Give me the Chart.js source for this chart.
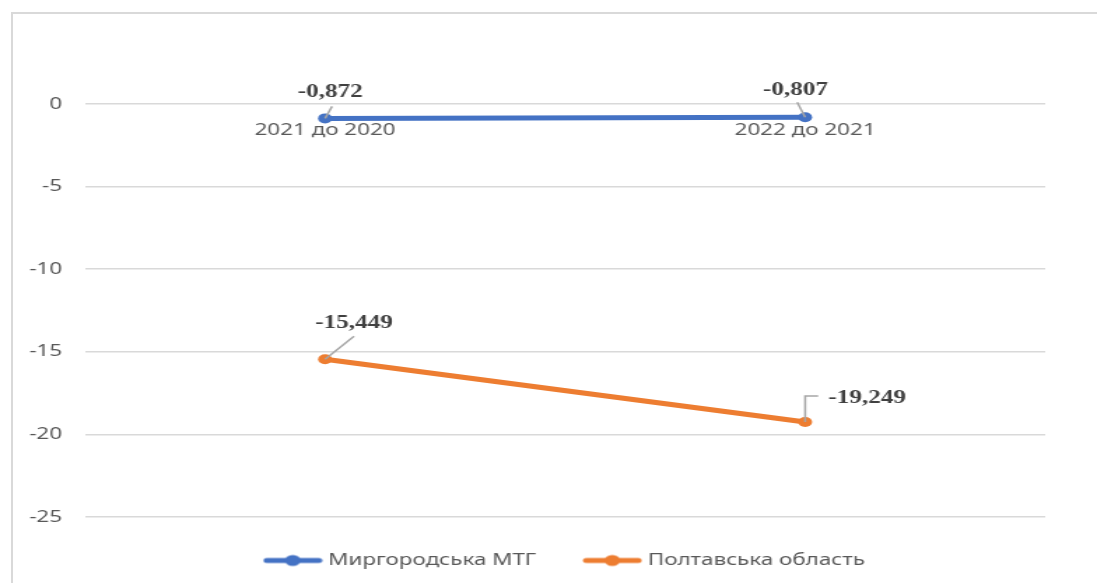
<!DOCTYPE html>
<html>
<head>
<meta charset="utf-8">
<script src="https://cdn.jsdelivr.net/npm/chart.js@4.4.0/dist/chart.umd.min.js"></script>
<style>
  html, body { margin: 0; padding: 0; background: #fff; overflow: hidden; }
  #frame {
    position: absolute; left: 11px; top: 12px; width: 1100px; height: 590px;
    border-left: 2px solid #d9d9d9; border-top: 2px solid #d9d9d9;
  }
  /* the reference is stretched horizontally, so the canvas is too */
  #chart { position: absolute; left: 0; top: 0; transform-origin: 0 0; transform: scaleX(1.3992); }
</style>
</head>
<body>
<div id="frame"></div>
<canvas id="chart" width="784" height="583"></canvas>
<script>
// --- data ---
const categories = ['2021 до 2020', '2022 до 2021'];
const seriesNames = ['Миргородська МТГ', 'Полтавська область'];
const myrhorodValues = [-0.872, -0.807];
const poltavaValues = [-15.449, -19.249];
const yTicks = [0, -5, -10, -15, -20, -25];

const BLUE = '#4472C4';
const ORANGE = '#ED7D31';
const GREY_TEXT = '#595959';
const FONT = '"Noto Sans", "Open Sans", sans-serif';

function formatValue(v) {
  return v.toFixed(3).replace('.', ',');
}

// line + dot icon for the legend
function legendIcon(color) {
  const c = document.createElement('canvas');
  c.width = 43;
  c.height = 14;
  const g = c.getContext('2d');
  g.strokeStyle = color;
  g.lineWidth = 5;
  g.lineCap = 'round';
  g.beginPath();
  g.moveTo(3, 7);
  g.lineTo(40, 7);
  g.stroke();
  g.fillStyle = color;
  g.beginPath();
  g.arc(21.5, 7, 5.5, 0, Math.PI * 2);
  g.fill();
  return c;
}
const legendIcons = [legendIcon(BLUE), legendIcon(ORANGE)];

// value labels with short leader lines, like Excel does
const valueLabels = {
  id: 'valueLabels',
  afterDatasetsDraw(chart, args, opts) {
    const ctx = chart.ctx;
    ctx.save();
    chart.data.datasets.forEach((ds, di) => {
      const meta = chart.getDatasetMeta(di);
      meta.data.forEach((pt, i) => {
        const o = opts.offsets[di][i];
        ctx.strokeStyle = '#a6a6a6';
        ctx.lineWidth = 1.5;
        ctx.beginPath();
        ctx.moveTo(pt.x, pt.y);
        if (o.elbow) ctx.lineTo(pt.x, pt.y + o.ly);
        ctx.lineTo(pt.x + o.lx, pt.y + o.ly);
        ctx.stroke();

        ctx.fillStyle = '#404040';
        ctx.font = 'bold 18px "Liberation Serif", "Times New Roman", serif';
        ctx.textAlign = 'center';
        ctx.textBaseline = 'middle';
        ctx.fillText(formatValue(ds.data[i]), pt.x + o.dx, pt.y + o.dy);
      });
    });
    ctx.restore();
  }
};

// fixes the legend box height and moves it where the reference has it
const legendPlacement = {
  id: 'legendPlacement',
  beforeLayout(chart, args, opts) {
    const lg = chart.legend;
    if (lg && !lg._fixedFit) {
      const fit = lg.fit;
      lg.fit = function () {
        fit.call(this);
        this.height = opts.height;
      };
      lg._fixedFit = true;
    }
  },
  afterLayout(chart, args, opts) {
    const lg = chart.legend;
    if (!lg) return;
    const dx = opts.centerX - (lg.left + lg.right) / 2;
    lg.left += dx;
    lg.right += dx;
    lg.top = opts.top;
    lg.bottom = chart.height;
    lg.height = lg.bottom - lg.top;
  }
};

const ctx = document.getElementById('chart');

new Chart(ctx, {
  type: 'line',
  data: {
    labels: categories,
    datasets: [
      {
        label: seriesNames[0],
        data: myrhorodValues,
        borderColor: BLUE,
        backgroundColor: BLUE,
        borderWidth: 5,
        borderCapStyle: 'round',
        pointRadius: 5,
        pointBorderWidth: 0,
        pointBackgroundColor: BLUE
      },
      {
        label: seriesNames[1],
        data: poltavaValues,
        borderColor: ORANGE,
        backgroundColor: ORANGE,
        borderWidth: 5,
        borderCapStyle: 'round',
        pointRadius: 5,
        pointBorderWidth: 0,
        pointBackgroundColor: ORANGE
      }
    ]
  },
  options: {
    responsive: false,
    animation: false,
    events: [],
    layout: { padding: { top: 21.4, right: 37, bottom: 0, left: 0 } },
    plugins: {
      tooltip: { enabled: false },
      legend: {
        position: 'bottom',
        labels: {
          usePointStyle: true,
          pointStyleWidth: 34.7,
          padding: 37,
          color: GREY_TEXT,
          font: { family: FONT, size: 16 },
          generateLabels: chart =>
            Chart.defaults.plugins.legend.labels.generateLabels(chart).map((item, i) => ({
              ...item,
              pointStyle: legendIcons[i]
            }))
        }
      },
      legendPlacement: { height: 49.5, centerX: 405, top: 515.5 },
      valueLabels: {
        offsets: [
          [{ dx: 3.6, dy: -26, lx: 5, ly: -12 }, { dx: -7, dy: -27, lx: -5.7, ly: -15 }],
          [{ dx: 20.7, dy: -36, lx: 20.7, ly: -23 }, { dx: 44.3, dy: -24, lx: 9.3, ly: -26, elbow: true }]
        ]
      }
    },
    scales: {
      x: {
        position: { y: 0 },
        offset: true,
        grid: { display: false, drawTicks: false },
        border: { display: false },
        ticks: { padding: 17, color: GREY_TEXT, font: { family: FONT, size: 16 } },
        afterFit: scale => {
          scale.height = 0;
          scale.paddingLeft = 0;
          scale.paddingRight = 0;
        }
      },
      y: {
        min: -26,
        max: 5,
        grid: { color: '#d9d9d9', lineWidth: 1.5, drawTicks: false },
        border: { display: false },
        ticks: {
          padding: 16.4,
          color: GREY_TEXT,
          font: { family: FONT, size: 16 },
          callback: v => String(v)
        },
        afterBuildTicks: scale => { scale.ticks = yTicks.map(v => ({ value: v })); },
        afterFit: scale => {
          scale.width = 60.75;
          scale.paddingTop = 0;
          scale.paddingBottom = 0;
        }
      }
    }
  },
  plugins: [valueLabels, legendPlacement]
});
</script>
</body>
</html>
